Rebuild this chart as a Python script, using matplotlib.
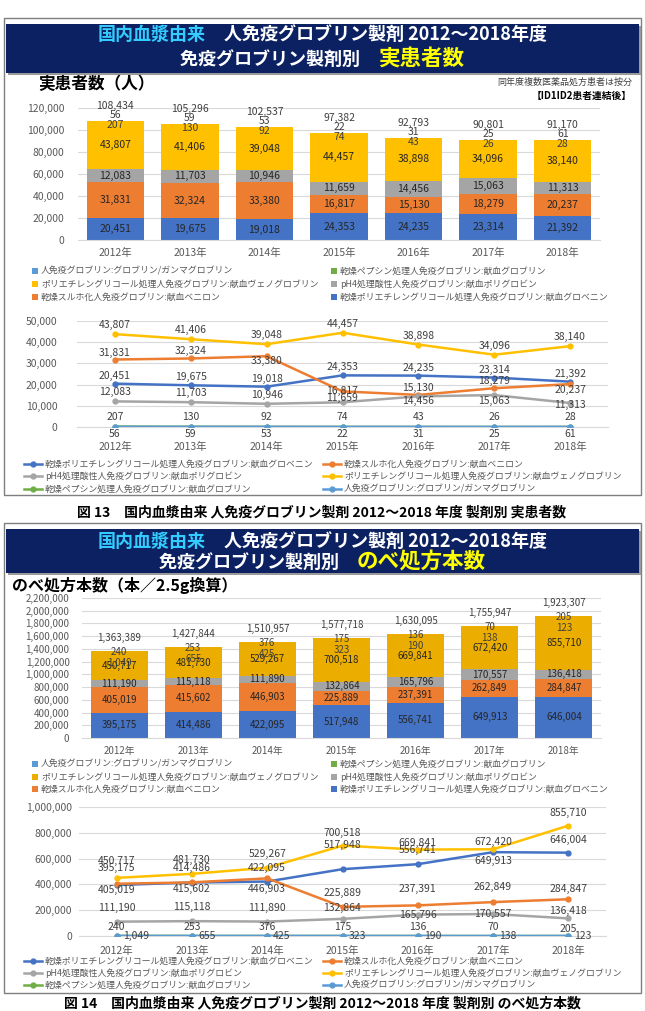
import numpy as np
import matplotlib
matplotlib.use('Agg')
import matplotlib.pyplot as plt
from matplotlib.patches import Rectangle
from matplotlib.lines import Line2D
from matplotlib.ticker import FuncFormatter, MultipleLocator

plt.rcParams['font.family'] = ['Noto Sans CJK JP', 'DejaVu Sans']

# ---- data ----
years = ['2012年', '2013年', '2014年', '2015年', '2016年', '2017年', '2018年']

name_glovenin = '乾燥ポリエチレングリコール処理人免疫グロブリン:献血グロベニン'
name_venilon = '乾燥スルホ化人免疫グロブリン:献血ベニロン'
name_poly = 'pH4処理酸性人免疫グロブリン:献血ポリグロビン'
name_veno = 'ポリエチレングリコール処理人免疫グロブリン:献血ヴェノグロブリン'
name_pepsin = '乾燥ペプシン処理人免疫グロブリン:献血グロブリン'
name_human = '人免疫グロブリン:グロブリン/ガンマグロブリン'

# 実患者数
pt_glovenin = [20451, 19675, 19018, 24353, 24235, 23314, 21392]
pt_venilon = [31831, 32324, 33380, 16817, 15130, 18279, 20237]
pt_poly = [12083, 11703, 10946, 11659, 14456, 15063, 11313]
pt_veno = [43807, 41406, 39048, 44457, 38898, 34096, 38140]
pt_pepsin = [207, 130, 92, 74, 43, 26, 28]
pt_human = [56, 59, 53, 22, 31, 25, 61]
pt_total = [108434, 105296, 102537, 97382, 92793, 90801, 91170]

# のべ処方本数
rx_glovenin = [395175, 414486, 422095, 517948, 556741, 649913, 646004]
rx_venilon = [405019, 415602, 446903, 225889, 237391, 262849, 284847]
rx_poly = [111190, 115118, 111890, 132864, 165796, 170557, 136418]
rx_veno = [450717, 481730, 529267, 700518, 669841, 672420, 855710]
rx_pepsin = [1049, 655, 425, 323, 190, 138, 123]
rx_human = [240, 253, 376, 175, 136, 70, 205]
rx_total = [1363389, 1427844, 1510957, 1577718, 1630095, 1755947, 1923307]

# ---- style ----
C_BLUE = '#4472C4'
C_ORANGE = '#ED7D31'
C_GRAY = '#A5A5A5'
C_YELLOW = '#FFC000'
C_YELLOW2 = '#EBAE00'
C_GREEN = '#70AD47'
C_LBLUE = '#5B9BD5'
NAVY = '#0B2161'
CYAN = '#33CCFF'
TXT = '#404040'
GRID = '#D9D9D9'

W, H = 645, 1011
fig = plt.figure(figsize=(W / 100, H / 100), dpi=100)


def box(x0, y0, x1, y1):
    return [x0 / W, 1 - y1 / H, (x1 - x0) / W, (y1 - y0) / H]


def fy(y):
    return 1 - y / H


def rect(x0, y0, x1, y1, **kw):
    fig.add_artist(Rectangle((x0 / W, fy(y1)), (x1 - x0) / W, (y1 - y0) / H,
                             transform=fig.transFigure, **kw))


def rich_line(y, parts):
    # 色違いの文字列を中央揃えで並べる
    r = fig.canvas.get_renderer()
    ts = [fig.text(0, fy(y), s, color=c, fontsize=fs, fontweight='bold',
                   ha='left', va='baseline') for s, c, fs in parts]
    ws = [t.get_window_extent(renderer=r).width for t in ts]
    x = (W - sum(ws)) / 2
    for t, w in zip(ts, ws):
        t.set_x(x / W)
        x += w


def header(y0, y1, base1, base2, line2_word):
    rect(8, y0 + 2, 641, y1 + 2, fc='#9A9A9A', ec='none')
    rect(6, y0, 639, y1, fc=NAVY, ec='none')
    rich_line(base1, [('国内血漿由来', CYAN, 13),
                      ('　人免疫グロブリン製剤 2012～2018年度', 'white', 13)])
    rich_line(base2, [('免疫グロブリン製剤別　', 'white', 13),
                      (line2_word, '#FFFF00', 15.5)])


def style_axis(ax, ymax, ystep, fs, ypad, xpad):
    ax.set_xlim(-0.5, len(years) - 0.5)
    ax.set_ylim(0, ymax)
    ax.yaxis.set_major_locator(MultipleLocator(ystep))
    ax.yaxis.set_major_formatter(FuncFormatter(lambda v, p: f'{int(v):,}'))
    ax.set_xticks(np.arange(len(years)))
    ax.set_xticklabels(years)
    for s in ax.spines.values():
        s.set_visible(False)
    ax.spines['bottom'].set_visible(True)
    ax.spines['bottom'].set_color(GRID)
    ax.grid(axis='y', color=GRID, lw=0.8)
    ax.set_axisbelow(True)
    ax.tick_params(axis='y', length=0, labelsize=fs, colors='#595959', pad=ypad)
    ax.tick_params(axis='x', length=0, labelsize=fs, colors='#595959', pad=xpad)
    ax.patch.set_alpha(0)


def stacked(ax, series, pepsin, human, totals, fs, off_h, off_p, off_t):
    x = np.arange(len(years))
    bottom = np.zeros(len(years))
    for vals, color in series:
        bars = ax.bar(x, vals, width=0.77, bottom=bottom, color=color, zorder=2)
        ax.bar_label(bars, labels=[f'{v:,}' for v in vals], label_type='center',
                     fontsize=fs, color='#262626')
        bottom += np.array(vals)
    ax.bar(x, pepsin, width=0.77, bottom=bottom, color=C_GREEN, zorder=2)
    bottom += np.array(pepsin)
    ax.bar(x, human, width=0.77, bottom=bottom, color=C_LBLUE, zorder=2)
    bottom += np.array(human)
    for i in x:
        for v, off in [(pepsin[i], off_p), (human[i], off_h), (totals[i], off_t)]:
            ax.annotate(f'{v:,}', (i, bottom[i]), xytext=(0, off * 0.72),
                        textcoords='offset points', ha='center', va='center',
                        fontsize=fs, color=TXT)


def lines(ax, series, fs):
    x = np.arange(len(years))
    for vals, color, offs in series:
        ax.plot(x, vals, color=color, lw=1.8, marker='o', ms=3.5, zorder=3)
        for i, v in enumerate(vals):
            dx, dy = offs[i]
            ax.annotate(f'{v:,}', (i, v), xytext=(dx * 0.72, dy * 0.72),
                        textcoords='offset points',
                        ha='center' if dx == 0 else 'left', va='center',
                        fontsize=fs, color=TXT, zorder=4)


def bar_legend(rows, x_cols, yellow):
    items = [(name_human, C_LBLUE), (name_pepsin, C_GREEN),
             (name_veno, yellow), (name_poly, C_GRAY),
             (name_venilon, C_ORANGE), (name_glovenin, C_BLUE)]
    for k, (name, color) in enumerate(items):
        x, y = x_cols[k % 2], rows[k // 2]
        rect(x, y - 3, x + 6, y + 3, fc=color, ec='none')
        fig.text((x + 9) / W, fy(y), name, fontsize=6.4, color='#595959', va='center')


def line_legend(rows, x_cols):
    items = [(name_glovenin, C_BLUE), (name_venilon, C_ORANGE),
             (name_poly, C_GRAY), (name_veno, C_YELLOW),
             (name_pepsin, C_GREEN), (name_human, C_LBLUE)]
    for k, (name, color) in enumerate(items):
        x, y = x_cols[k % 2], rows[k // 2]
        fig.add_artist(Line2D([x / W, (x + 18) / W], [fy(y), fy(y)], color=color,
                              lw=1.8, transform=fig.transFigure))
        fig.add_artist(Line2D([(x + 9) / W], [fy(y)], color=color, marker='o', ms=3.5,
                              transform=fig.transFigure))
        fig.text((x + 21) / W, fy(y), name, fontsize=6.4, color='#595959', va='center')


def offs(dys, dx=0):
    return [(dx, d) for d in dys]


# ================= 図13 実患者数 =================
rect(4, 18, 641, 495, fill=False, ec='#7F7F7F', lw=1)
header(24, 73, 40, 65, '実患者数')
fig.text(38 / W, fy(84), '実患者数（人）', fontsize=12, fontweight='bold',
         va='center', color='black')
fig.text(632 / W, fy(82), '同年度複数医薬品処方患者は按分', fontsize=6.5,
         ha='right', va='center', color=TXT)
fig.text(632 / W, fy(96), '【ID1ID2患者連結後】', fontsize=7, fontweight='bold',
         ha='right', va='center', color='black')

ax1 = fig.add_axes(box(78, 108, 600, 240))
style_axis(ax1, 120000, 20000, 7.5, 10, 6)
stacked(ax1, [(pt_glovenin, C_BLUE), (pt_venilon, C_ORANGE),
              (pt_poly, C_GRAY), (pt_veno, C_YELLOW)],
        pt_pepsin, pt_human, pt_total, 7.5, 6, -4, 15)
bar_legend([271, 284, 297], [32, 331], C_YELLOW)

ax2 = fig.add_axes(box(77, 321, 608, 427))
style_axis(ax2, 50000, 10000, 7.5, 14, 11)
lines(ax2, [
    (pt_glovenin, C_BLUE, offs([8] * 7)),
    (pt_venilon, C_ORANGE, offs([7, 7, -5, 0, 7, 7, -6])),
    (pt_poly, C_GRAY, offs([9, 9, 9, 4, -5, -6, -2])),
    (pt_veno, C_YELLOW, offs([9] * 7)),
    (pt_pepsin, C_GREEN, offs([10] * 7)),
    (pt_human, C_LBLUE, offs([-7] * 7)),
], 7.5)
line_legend([464, 476, 489], [24, 323])

fig.text(322 / W, fy(512), '図 13　国内血漿由来 人免疫グロブリン製剤 2012～2018 年度 製剤別 実患者数',
         ha='center', va='center', fontsize=10, fontweight='bold')

# ================= 図14 のべ処方本数 =================
rect(4, 523, 641, 993, fill=False, ec='#7F7F7F', lw=1)
header(529, 573, 547, 568, 'のべ処方本数')
fig.text(12 / W, fy(585), 'のべ処方本数（本／2.5g換算）', fontsize=11.5, fontweight='bold',
         va='center', color='black')

ax3 = fig.add_axes(box(82, 598, 601, 738))
style_axis(ax3, 2200000, 200000, 7, 9, 6)
stacked(ax3, [(rx_glovenin, C_BLUE), (rx_venilon, C_ORANGE),
              (rx_poly, C_GRAY), (rx_veno, C_YELLOW2)],
        rx_pepsin, rx_human, rx_total, 7, -1, -12, 13)
bar_legend([764, 777, 789], [32, 331], C_YELLOW2)

ax4 = fig.add_axes(box(79, 807, 606, 936))
style_axis(ax4, 1000000, 200000, 7.5, 5, 7)
lines(ax4, [
    (rx_glovenin, C_BLUE, offs([17, 15, 14, 24, 14, -9, 13])),
    (rx_venilon, C_ORANGE, offs([-6, -7, -11, 14, 16, 15, 10])),
    (rx_poly, C_GRAY, offs([14, 14, 14, 11, 0, 0, 7])),
    (rx_veno, C_YELLOW, offs([17, 14, 14, 13, 7, 7, 13])),
    (rx_pepsin, C_GREEN, offs([0] * 7, dx=6)),
    (rx_human, C_LBLUE, offs([9, 9, 9, 9, 9, 9, 7])),
], 7.5)
line_legend([961, 973, 985], [24, 323])

fig.text(322 / W, fy(1003), '図 14　国内血漿由来 人免疫グロブリン製剤 2012～2018 年度 製剤別 のべ処方本数',
         ha='center', va='center', fontsize=10, fontweight='bold')

fig.savefig('out.png', dpi=100)
